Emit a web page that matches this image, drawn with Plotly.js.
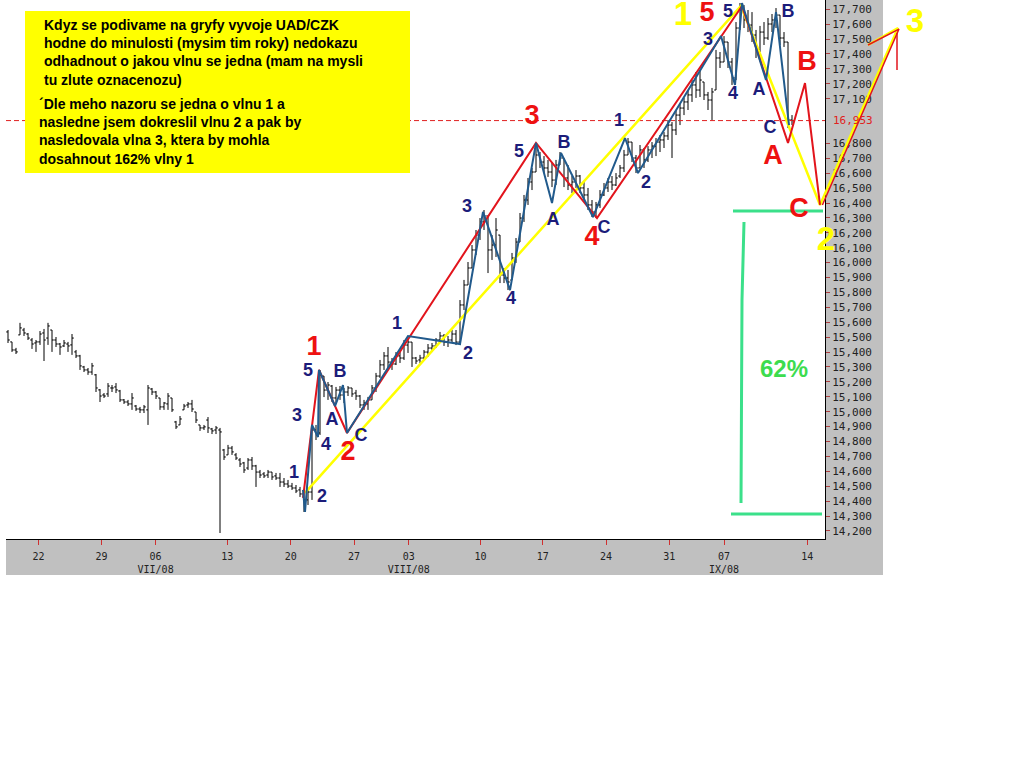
<!DOCTYPE html>
<html><head><meta charset="utf-8">
<script src="https://cdn.plot.ly/plotly-3.0.1.min.js"></script>
<style>html,body{margin:0;padding:0;background:#fff;overflow:hidden}#chart{width:1024px;height:768px}</style>
</head><body><div id="chart"></div>
<script>
// ---- price bars (USD/CZK), one entry per bar ----
const barOpen = [
15.535,15.468,15.414,15.515,15.548,15.521,15.481,15.461,15.468,15.528,
15.494,15.548,15.481,15.454,15.441,15.454,15.448,15.401,15.374,15.300,
15.280,15.266,15.247,15.146,15.112,15.119,15.159,15.166,15.139,15.079,
15.065,15.052,15.038,15.018,15.012,15.012,15.152,15.132,15.092,15.032,
15.052,15.092,14.931,14.911,15.012,15.045,15.052,14.998,14.911,14.891,
14.944,14.884,14.877,14.877,14.743,14.710,14.756,14.710,14.676,14.656,
14.622,14.676,14.636,14.595,14.582,14.575,14.595,14.569,14.555,14.528,
14.515,14.501,14.488,14.475,14.448,14.408,14.461,14.877,14.857,15.239,
15.145,15.172,15.092,15.145,15.112,15.132,15.159,15.125,15.105,15.045,
15.052,15.079,15.159,15.239,15.314,15.374,15.333,15.320,15.374,15.360,
15.447,15.467,15.360,15.347,15.360,15.400,15.427,15.441,15.481,15.508,
15.467,15.481,15.521,15.467,15.716,15.850,15.964,16.085,16.185,16.273,
16.313,16.085,16.118,16.185,15.917,15.897,15.883,16.031,16.138,16.299,
16.420,16.541,16.608,16.722,16.675,16.635,16.608,16.554,16.655,16.702,
16.568,16.521,16.541,16.581,16.501,16.454,16.387,16.340,16.387,16.454,
16.501,16.541,16.521,16.581,16.635,16.722,16.809,16.702,16.635,16.756,
16.689,16.756,16.782,16.809,16.823,16.850,16.923,16.890,16.990,17.037,
17.078,17.125,17.192,17.158,17.212,17.125,17.091,17.158,17.373,17.346,
17.480,17.346,17.239,17.574,17.695,17.628,17.594,17.527,17.427,17.547,
17.507,17.601,17.628,17.661,17.507,17.480,16.957];
const barHigh = [
15.548,15.468,15.428,15.596,15.562,15.528,15.494,15.481,15.541,15.555,
15.596,15.548,15.501,15.461,15.481,15.468,15.521,15.414,15.381,15.307,
15.293,15.327,15.253,15.152,15.125,15.192,15.179,15.192,15.146,15.085,
15.079,15.125,15.045,15.032,15.045,15.179,15.159,15.139,15.092,15.065,
15.125,15.092,14.938,14.971,15.052,15.065,15.079,14.998,14.911,14.911,
14.964,14.891,14.904,14.891,14.750,14.777,14.770,14.723,14.689,14.663,
14.689,14.696,14.643,14.609,14.595,14.609,14.595,14.589,14.589,14.555,
14.542,14.522,14.508,14.495,14.475,14.488,14.897,14.911,15.279,15.239,
15.199,15.179,15.166,15.172,15.159,15.172,15.159,15.146,15.112,15.079,
15.099,15.179,15.260,15.347,15.400,15.434,15.360,15.400,15.400,15.481,
15.494,15.467,15.367,15.381,15.414,15.454,15.461,15.494,15.535,15.521,
15.508,15.548,15.548,15.749,15.884,16.004,16.118,16.219,16.299,16.353,
16.313,16.185,16.299,16.185,15.964,15.951,16.065,16.165,16.333,16.454,
16.568,16.635,16.769,16.742,16.715,16.689,16.675,16.689,16.742,16.702,
16.655,16.581,16.621,16.588,16.541,16.501,16.420,16.407,16.487,16.534,
16.568,16.581,16.601,16.655,16.756,16.836,16.809,16.722,16.789,16.769,
16.782,16.809,16.836,16.856,16.876,16.957,16.943,17.024,17.064,17.105,
17.158,17.225,17.279,17.292,17.212,17.145,17.172,17.427,17.413,17.520,
17.480,17.373,17.614,17.742,17.728,17.695,17.681,17.561,17.588,17.614,
17.641,17.668,17.708,17.661,17.547,17.480,16.990];
const barLow = [
15.461,15.401,15.387,15.515,15.508,15.481,15.421,15.401,15.448,15.340,
15.448,15.401,15.434,15.381,15.434,15.401,15.381,15.360,15.280,15.266,
15.247,15.247,15.132,15.065,15.092,15.099,15.132,15.125,15.065,15.052,
15.038,15.012,15.005,14.991,14.991,14.911,15.112,15.085,15.012,15.012,
15.012,14.998,14.884,14.911,15.012,15.025,14.998,14.924,14.871,14.877,
14.857,14.850,14.850,14.186,14.676,14.710,14.710,14.676,14.629,14.589,
14.609,14.609,14.495,14.555,14.555,14.555,14.542,14.542,14.495,14.495,
14.488,14.475,14.454,14.428,14.327,14.374,14.408,14.810,14.844,15.098,
15.079,15.065,15.058,15.079,15.058,15.105,15.099,15.079,15.025,15.012,
15.012,15.079,15.132,15.226,15.280,15.280,15.280,15.313,15.327,15.347,
15.394,15.300,15.320,15.327,15.347,15.367,15.400,15.427,15.461,15.441,
15.434,15.467,15.447,15.447,15.682,15.850,15.964,16.051,16.152,16.219,
15.930,16.018,16.038,15.863,15.863,15.816,15.883,15.998,16.138,16.273,
16.387,16.487,16.608,16.635,16.601,16.575,16.507,16.521,16.655,16.507,
16.487,16.467,16.501,16.467,16.420,16.353,16.306,16.299,16.367,16.447,
16.474,16.487,16.514,16.568,16.608,16.722,16.675,16.601,16.635,16.635,
16.675,16.702,16.715,16.742,16.769,16.823,16.702,16.856,16.923,16.990,
17.024,17.078,17.105,17.111,17.091,17.024,16.957,17.158,17.306,17.346,
17.306,17.192,17.225,17.561,17.574,17.547,17.480,17.373,17.413,17.460,
17.494,17.547,17.574,17.460,17.447,16.903,16.923];
const barClose = [
15.481,15.414,15.401,15.562,15.528,15.494,15.454,15.468,15.521,15.481,
15.575,15.481,15.454,15.434,15.461,15.441,15.494,15.374,15.307,15.280,
15.266,15.307,15.159,15.105,15.105,15.172,15.159,15.146,15.079,15.065,
15.052,15.092,15.018,15.012,15.032,15.159,15.132,15.105,15.032,15.058,
15.105,15.012,14.898,14.951,15.038,15.052,15.018,14.944,14.891,14.898,
14.891,14.871,14.891,14.864,14.696,14.756,14.730,14.689,14.649,14.609,
14.676,14.636,14.595,14.575,14.569,14.595,14.562,14.555,14.528,14.515,
14.501,14.488,14.468,14.448,14.408,14.461,14.877,14.844,15.246,15.145,
15.179,15.092,15.145,15.112,15.132,15.159,15.119,15.105,15.045,15.058,
15.079,15.159,15.239,15.314,15.374,15.333,15.320,15.374,15.360,15.447,
15.467,15.360,15.340,15.360,15.400,15.427,15.441,15.481,15.508,15.467,
15.481,15.521,15.467,15.716,15.850,15.964,16.085,16.185,16.273,16.313,
16.085,16.118,16.219,15.917,15.897,15.870,16.031,16.138,16.299,16.420,
16.541,16.608,16.722,16.675,16.635,16.608,16.554,16.655,16.702,16.568,
16.521,16.541,16.581,16.501,16.454,16.387,16.340,16.387,16.454,16.501,
16.541,16.521,16.568,16.635,16.722,16.809,16.702,16.635,16.756,16.689,
16.756,16.782,16.809,16.823,16.850,16.923,16.890,16.990,17.037,17.078,
17.125,17.192,17.158,17.225,17.125,17.091,17.145,17.373,17.346,17.480,
17.346,17.239,17.574,17.695,17.628,17.594,17.527,17.427,17.547,17.507,
17.601,17.628,17.661,17.507,17.480,16.957,16.953];

const lastPrice = 16.953;
const lastPriceLabel = '16,953';

// ---- axis ticks ----
const xTickVals = [7.6, 23.4, 36.9, 54.8, 70.7, 86.5, 100.2, 118.1, 133.7, 149.5, 165.3, 179.0, 199.8];
const xTickText = ['22','29','06<br>VII/08','13','20','27','03<br>VIII/08','10','17','24','31','07<br>IX/08','14'];
const yTickVals = [14.2,14.3,14.4,14.5,14.6,14.7,14.8,14.9,15.0,15.1,15.2,15.3,15.4,15.5,15.6,15.7,15.8,15.9,
  16.0,16.1,16.2,16.3,16.4,16.5,16.6,16.7,16.8,17.1,17.2,17.3,17.4,17.5,17.6,17.7];

// ---- Elliott wave drawing (bar index, price) ----
const redWaveX = [73.75, 77.75, 84.75, 132.0, 147.25, 183.5, 195.0, 199.25, 203.0];
const redWaveY = [14.421, 15.280, 14.857, 16.803, 16.299, 17.722, 16.803, 17.205, 16.387];
const yellowWaveX = [74.25, 183.25, 203.0, 222.5, 215.0];
const yellowWaveY = [14.455, 17.722, 16.387, 17.574, 17.460];
const redTargetX = [203.6, 222.75, 215.0, null, 222.25, 222.25];
const redTargetY = [16.387, 17.567, 17.460, null, 17.541, 17.292];
const blueWaveX = [73.75, 74.25, 76.0, 77.5, 77.75, 81.75, 83.75, 84.75, 100.0, 113.0, 118.75, 125.5,
  132.0, 136.0, 138.25, 146.25, 154.25, 157.5, 178.25, 181.75, 183.5, 189.5, 192.0, 195.25];
const blueWaveY = [14.475, 14.327, 14.911, 14.830, 15.280, 15.038, 15.179, 14.857, 15.508, 15.454, 16.340, 15.816,
  16.803, 16.400, 16.736, 16.306, 16.836, 16.601, 17.520, 17.192, 17.742, 17.225, 17.681, 16.923];
const greenX = [181.25, 203.75, null, 184.0, 183.5, 183.25, null, 180.75, 203.5];
const greenY = [16.346, 16.346, null, 16.273, 15.749, 14.387, null, 14.314, 14.314];

// ---- wave labels ----
const navyText = ['1','2','3','4','5','A','B','C','1','2','3','4','5','A','B','C','1','2','3','4','5','A','B','C'];
const navyX = [71.5, 78.5, 72.25, 79.5, 75.0, 81.0, 83.0, 88.25, 97.25, 115.0, 114.75, 125.75, 127.75, 136.25, 139.0, 149.0,
  152.75, 159.5, 175.0, 181.25, 180.0, 187.75, 195.0, 190.5];
const navyY = [14.582, 14.421, 14.971, 14.770, 15.273, 14.944, 15.266, 14.831, 15.582, 15.387, 16.373, 15.756, 16.742, 16.286,
  16.796, 16.226, 16.944, 16.534, 17.487, 17.125, 17.680, 17.158, 17.680, 16.903];
const redText = ['1','2','3','4','5','A','B','C'];
const redX = [76.5, 85.0, 131.0, 146.0, 174.75, 191.25, 199.75, 197.75];
const redY = [15.427, 14.723, 16.977, 16.165, 17.665, 16.709, 17.339, 16.353];
const yellowText = ['1','2','3'];
const yellowX = [168.75, 204.5, 226.75];
const yellowY = [17.650, 16.138, 17.600];
const greenText = ['62%'];
const greenTX = [194.0];
const greenTY = [15.273];

const noteLines1 = ['Kdyz se podivame na gryfy vyvoje UAD/CZK','hodne do minulosti (mysim tim roky) nedokazu',
  'odhadnout o jakou vlnu se jedna (mam na mysli','tu zlute oznacenozu)'];
const noteLines2 = ['´Dle meho nazoru se jedna o vlnu 1 a','nasledne jsem dokreslil vlnu 2 a pak by',
  'nasledovala vlna 3, ktera by mohla','dosahnout 162% vlny 1'];

// ---- build ----
const barIndex = barClose.map((_, i) => i);
const W = 1024, H = 768;
const xMain = [-0.5, 204.25];
const bold = 'Liberation Sans, Arial, sans-serif';

function textTrace(t, x, y, color, size) {
  return {type:'scatter', mode:'text', xaxis:'x2', yaxis:'y2', x:x, y:y, text:t.map(s => '<b>' + s + '</b>'),
    textposition:'middle center', cliponaxis:false,
    textfont:{family:bold, size:size, color:color}, hoverinfo:'skip'};
}

const traces = [
  {type:'ohlc', x:barIndex, open:barOpen, high:barHigh, low:barLow, close:barClose,
   increasing:{line:{color:'#000000', width:1}}, decreasing:{line:{color:'#000000', width:1}},
   tickwidth:0.45, hoverinfo:'skip'},
  {type:'scatter', mode:'lines', x:xMain, y:[lastPrice, lastPrice],
   line:{color:'#e02020', width:1, dash:'5px,3px'}, hoverinfo:'skip'},
  {type:'scatter', mode:'lines', xaxis:'x2', yaxis:'y2', x:greenX, y:greenY,
   line:{color:'#3be08a', width:3}, hoverinfo:'skip'},
  {type:'scatter', mode:'lines', xaxis:'x2', yaxis:'y2', x:yellowWaveX, y:yellowWaveY,
   line:{color:'#ffff00', width:2.5}, hoverinfo:'skip'},
  {type:'scatter', mode:'lines', xaxis:'x2', yaxis:'y2', x:redWaveX, y:redWaveY,
   line:{color:'#e2141c', width:2}, hoverinfo:'skip'},
  {type:'scatter', mode:'lines', xaxis:'x2', yaxis:'y2', x:redTargetX, y:redTargetY,
   line:{color:'#e2141c', width:1.5}, hoverinfo:'skip'},
  {type:'scatter', mode:'lines', xaxis:'x2', yaxis:'y2', x:blueWaveX, y:blueWaveY,
   line:{color:'#215a8c', width:2}, hoverinfo:'skip'},
  textTrace(navyText, navyX, navyY, '#1c1c7a', 18),
  textTrace(redText, redX, redY, '#ee1111', 27),
  textTrace(yellowText, yellowX, yellowY, '#ffff00', 33),
  textTrace(greenText, greenTX, greenTY, '#3ddc4e', 24)
];

const axisFont = {family:'DejaVu Sans Mono, monospace', size:11, color:'#222222'};
const layout = {
  width:W, height:H, margin:{l:0, r:0, t:0, b:0, pad:0},
  paper_bgcolor:'#ffffff', plot_bgcolor:'rgba(0,0,0,0)',
  showlegend:false, separators:',.', hovermode:false,
  xaxis:{domain:[6/W, 825/W], range:xMain, showgrid:false, zeroline:false, showline:true,
    linecolor:'#000000', linewidth:1, ticks:'outside', ticklen:5, tickcolor:'#d03030',
    tickmode:'array', tickvals:xTickVals, ticktext:xTickText, ticklabelstandoff:3,
    tickfont:{family:'DejaVu Sans Mono, monospace', size:10, color:'#222222'},
    rangeslider:{visible:false}, fixedrange:true},
  yaxis:{domain:[1 - 539/H, 1], range:[14.1458, 17.762], side:'right', showgrid:false, zeroline:false,
    showline:true, linecolor:'#000000', linewidth:1, ticks:'outside', ticklen:4, tickcolor:'#b04040',
    tickmode:'array', tickvals:yTickVals, tickformat:'.3f', tickfont:axisFont, fixedrange:true},
  xaxis2:{domain:[0, 1], range:[-2, 254], visible:false, anchor:'y2', fixedrange:true},
  yaxis2:{domain:[0, 1], range:[12.6095, 17.762], visible:false, anchor:'x2', fixedrange:true},
  shapes:[
    {type:'rect', xref:'paper', yref:'paper', x0:825/W, x1:883/W, y0:1 - 575/H, y1:1,
     fillcolor:'#c0c0c0', line:{width:0}, layer:'below'},
    {type:'rect', xref:'paper', yref:'paper', x0:6/W, x1:883/W, y0:1 - 575/H, y1:1 - 539/H,
     fillcolor:'#c0c0c0', line:{width:0}, layer:'below'},
    {type:'rect', xref:'paper', yref:'paper', x0:25/W, x1:410/W, y0:1 - 173/H, y1:1 - 11/H,
     fillcolor:'#ffff00', line:{width:0}, layer:'above'}
  ],
  annotations:[
    {xref:'paper', yref:'paper', x:42/W, y:1 - 15/H, xanchor:'left', yanchor:'top', align:'left',
     showarrow:false, text:'<b>' + noteLines1.join('<br>') + '</b>',
     font:{family:bold, size:14, color:'#000000'}},
    {xref:'paper', yref:'paper', x:37/W, y:1 - 94/H, xanchor:'left', yanchor:'top', align:'left',
     showarrow:false, text:'<b>' + noteLines2.join('<br>') + '</b>',
     font:{family:bold, size:14, color:'#000000'}},
    {xref:'paper', yref:'y', x:831/W, y:lastPrice, xanchor:'left', yanchor:'middle', showarrow:false,
     text:lastPriceLabel, font:{family:'DejaVu Sans Mono, monospace', size:11, color:'#e02020'}}
  ]
};

Plotly.newPlot('chart', traces, layout, {staticPlot:true, displayModeBar:false});
</script></body></html>
